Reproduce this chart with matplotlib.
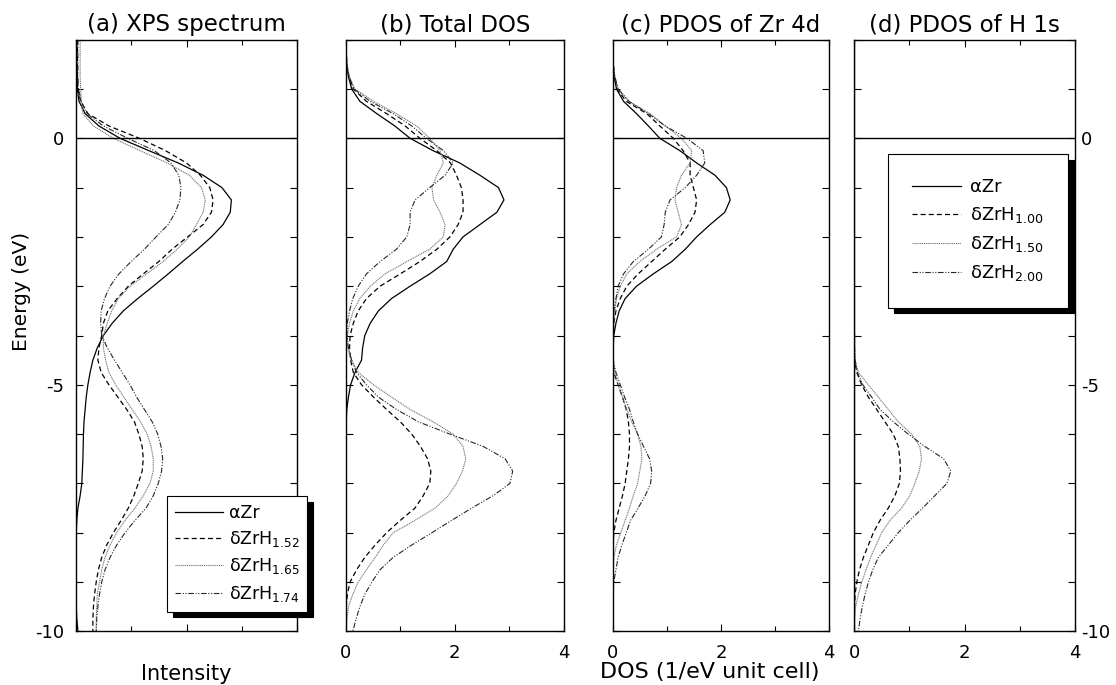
import matplotlib
matplotlib.use('Agg')
import matplotlib.pyplot as plt
from matplotlib.ticker import MultipleLocator

plt.rcParams['font.family'] = ['DejaVu Sans']
plt.rcParams['mathtext.fontset'] = 'dejavusans'
plt.rcParams['axes.unicode_minus'] = False

# energy grid (eV), shared by every curve
energy = [2.0, 1.75, 1.5, 1.25, 1.0, 0.75, 0.5, 0.25,
          0.0, -0.25, -0.5, -0.75, -1.0, -1.25, -1.5, -1.75,
          -2.0, -2.25, -2.5, -2.75, -3.0, -3.25, -3.5, -3.75,
          -4.0, -4.25, -4.5, -4.75, -5.0, -5.25, -5.5, -5.75,
          -6.0, -6.25, -6.5, -6.75, -7.0, -7.25, -7.5, -7.75,
          -8.0, -8.25, -8.5, -8.75, -9.0, -9.25, -9.5, -9.75,
          -10.0]

# (a) XPS spectrum (arbitrary intensity)
xps_zr = [0.02, 0.02, 0.02, 0.03, 0.03, 0.06, 0.17, 0.42,
          0.80, 1.32, 1.85, 2.30, 2.64, 2.81, 2.79, 2.66,
          2.45, 2.20, 1.93, 1.67, 1.40, 1.12, 0.86, 0.66,
          0.50, 0.39, 0.31, 0.26, 0.22, 0.19, 0.17, 0.15,
          0.14, 0.135, 0.13, 0.12, 0.11, 0.08, 0.04, 0.02,
          0.01, 0.01, 0.01, 0.01, 0.01, 0.01, 0.01, 0.02,
          0.04]
xps_152 = [0.03, 0.03, 0.03, 0.03, 0.04, 0.09, 0.22, 0.60,
           1.15, 1.62, 2.00, 2.25, 2.42, 2.48, 2.45, 2.30,
           2.02, 1.74, 1.50, 1.22, 0.95, 0.75, 0.58, 0.50,
           0.47, 0.42, 0.40, 0.46, 0.60, 0.76, 0.92, 1.06,
           1.14, 1.20, 1.22, 1.20, 1.13, 1.05, 0.95, 0.82,
           0.68, 0.56, 0.47, 0.41, 0.37, 0.34, 0.32, 0.31,
           0.31]
xps_165 = [0.08, 0.08, 0.08, 0.08, 0.09, 0.10, 0.13, 0.32,
           0.68, 1.16, 1.65, 2.05, 2.27, 2.34, 2.30, 2.18,
           2.05, 1.83, 1.58, 1.28, 0.98, 0.77, 0.65, 0.57,
           0.50, 0.50, 0.54, 0.60, 0.72, 0.87, 1.02, 1.17,
           1.29, 1.36, 1.40, 1.40, 1.34, 1.22, 1.07, 0.89,
           0.74, 0.62, 0.53, 0.47, 0.43, 0.39, 0.38, 0.37,
           0.37]
xps_174 = [0.04, 0.04, 0.04, 0.04, 0.05, 0.10, 0.20, 0.50,
           0.94, 1.42, 1.72, 1.86, 1.90, 1.88, 1.80, 1.67,
           1.45, 1.24, 1.00, 0.78, 0.62, 0.52, 0.46, 0.45,
           0.47, 0.57, 0.70, 0.84, 0.98, 1.10, 1.24, 1.38,
           1.48, 1.54, 1.57, 1.55, 1.49, 1.40, 1.27, 1.07,
           0.89, 0.74, 0.62, 0.53, 0.47, 0.43, 0.40, 0.38,
           0.37]

# (b) total DOS
tot_zr = [0.00, 0.01, 0.02, 0.05, 0.11, 0.26, 0.57, 0.90,
          1.18, 1.60, 2.09, 2.46, 2.80, 2.90, 2.77, 2.46,
          2.15, 1.97, 1.85, 1.54, 1.18, 0.84, 0.60, 0.45,
          0.35, 0.31, 0.29, 0.17, 0.09, 0.05, 0.02, 0.01,
          0.00, 0.00, 0.00, 0.00, 0.00, 0.00, 0.00, 0.00,
          0.00, 0.00, 0.00, 0.00, 0.00, 0.00, 0.00, 0.00,
          0.00]
tot_100 = [0.00, 0.01, 0.02, 0.06, 0.14, 0.38, 0.75, 1.09,
           1.36, 1.67, 1.92, 2.03, 2.12, 2.15, 2.15, 2.06,
           1.91, 1.67, 1.36, 1.00, 0.63, 0.38, 0.23, 0.14,
           0.08, 0.07, 0.09, 0.14, 0.29, 0.51, 0.75, 1.00,
           1.21, 1.37, 1.50, 1.56, 1.54, 1.42, 1.27, 1.00,
           0.75, 0.54, 0.35, 0.20, 0.08, 0.03, 0.01, 0.00,
           0.00]
tot_150 = [0.00, 0.01, 0.02, 0.07, 0.17, 0.51, 0.93, 1.30,
           1.54, 1.73, 1.79, 1.67, 1.58, 1.61, 1.73, 1.82,
           1.79, 1.54, 1.12, 0.72, 0.45, 0.26, 0.14, 0.07,
           0.03, 0.04, 0.10, 0.23, 0.51, 0.84, 1.18, 1.60,
           1.97, 2.15, 2.20, 2.14, 2.03, 1.88, 1.64, 1.27,
           0.87, 0.69, 0.54, 0.38, 0.23, 0.13, 0.05, 0.02,
           0.01]
tot_200 = [0.00, 0.01, 0.02, 0.06, 0.15, 0.45, 0.87, 1.21,
           1.48, 1.79, 1.97, 1.82, 1.54, 1.27, 1.18, 1.18,
           1.12, 0.93, 0.63, 0.38, 0.23, 0.13, 0.07, 0.03,
           0.02, 0.05, 0.11, 0.20, 0.38, 0.60, 0.93, 1.33,
           1.91, 2.52, 2.92, 3.06, 3.01, 2.70, 2.31, 1.94,
           1.58, 1.21, 0.87, 0.63, 0.48, 0.35, 0.26, 0.19,
           0.13]

# (c) PDOS of Zr 4d
zr_zr = [0.00, 0.00, 0.01, 0.03, 0.07, 0.20, 0.44, 0.66,
         0.87, 1.24, 1.55, 1.89, 2.10, 2.17, 2.07, 1.80,
         1.55, 1.34, 1.09, 0.75, 0.44, 0.23, 0.12, 0.06,
         0.02, 0.01, 0.00, 0.00, 0.00, 0.00, 0.00, 0.00,
         0.00, 0.00, 0.00, 0.00, 0.00, 0.00, 0.00, 0.00,
         0.00, 0.00, 0.00, 0.00, 0.00, 0.00, 0.00, 0.00,
         0.00]
zr_100 = [0.00, 0.00, 0.01, 0.03, 0.08, 0.25, 0.63, 0.87,
          1.12, 1.30, 1.43, 1.43, 1.49, 1.55, 1.52, 1.40,
          1.24, 0.97, 0.72, 0.47, 0.26, 0.14, 0.06, 0.02,
          0.01, 0.01, 0.01, 0.02, 0.10, 0.18, 0.25, 0.29,
          0.31, 0.31, 0.29, 0.26, 0.23, 0.18, 0.12, 0.06,
          0.02, 0.01, 0.00, 0.00, 0.00, 0.00, 0.00, 0.00,
          0.00]
zr_150 = [0.00, 0.00, 0.01, 0.04, 0.10, 0.30, 0.69, 0.97,
          1.27, 1.46, 1.43, 1.27, 1.18, 1.15, 1.21, 1.27,
          1.18, 0.81, 0.50, 0.26, 0.14, 0.07, 0.04, 0.02,
          0.01, 0.01, 0.01, 0.04, 0.10, 0.18, 0.26, 0.35,
          0.46, 0.52, 0.54, 0.50, 0.46, 0.38, 0.31, 0.23,
          0.15, 0.07, 0.02, 0.01, 0.00, 0.00, 0.00, 0.00,
          0.00]
zr_200 = [0.00, 0.00, 0.01, 0.04, 0.10, 0.30, 0.66, 0.97,
          1.37, 1.67, 1.70, 1.55, 1.34, 1.06, 0.97, 0.95,
          0.90, 0.66, 0.38, 0.20, 0.10, 0.06, 0.02, 0.01,
          0.01, 0.01, 0.01, 0.06, 0.14, 0.22, 0.31, 0.38,
          0.46, 0.57, 0.68, 0.72, 0.70, 0.60, 0.47, 0.33,
          0.25, 0.17, 0.10, 0.06, 0.02, 0.01, 0.00, 0.00,
          0.00]

# (d) PDOS of H 1s
h_zr = [0.00, 0.00, 0.00, 0.00, 0.00, 0.00, 0.00, 0.00,
        0.00, 0.00, 0.00, 0.00, 0.00, 0.00, 0.00, 0.00,
        0.00, 0.00, 0.00, 0.00, 0.00, 0.00, 0.00, 0.00,
        0.00, 0.00, 0.00, 0.00, 0.00, 0.00, 0.00, 0.00,
        0.00, 0.00, 0.00, 0.00, 0.00, 0.00, 0.00, 0.00,
        0.00, 0.00, 0.00, 0.00, 0.00, 0.00, 0.00, 0.00,
        0.00]
h_100 = [0.00, 0.00, 0.00, 0.00, 0.00, 0.00, 0.00, 0.00,
         0.00, 0.00, 0.00, 0.00, 0.00, 0.00, 0.00, 0.00,
         0.00, 0.00, 0.00, 0.00, 0.00, 0.00, 0.00, 0.00,
         0.00, 0.00, 0.01, 0.05, 0.14, 0.26, 0.41, 0.56,
         0.71, 0.80, 0.83, 0.84, 0.82, 0.74, 0.62, 0.47,
         0.35, 0.26, 0.17, 0.10, 0.05, 0.02, 0.01, 0.00,
         0.00]
h_150 = [0.00, 0.00, 0.00, 0.00, 0.00, 0.00, 0.00, 0.00,
         0.00, 0.00, 0.00, 0.00, 0.00, 0.00, 0.00, 0.00,
         0.00, 0.00, 0.00, 0.00, 0.00, 0.00, 0.00, 0.00,
         0.01, 0.01, 0.02, 0.08, 0.26, 0.44, 0.62, 0.80,
         1.04, 1.19, 1.22, 1.18, 1.10, 1.01, 0.86, 0.65,
         0.50, 0.40, 0.30, 0.22, 0.14, 0.08, 0.03, 0.01,
         0.00]
h_200 = [0.00, 0.00, 0.00, 0.00, 0.00, 0.00, 0.00, 0.00,
         0.00, 0.00, 0.00, 0.00, 0.00, 0.00, 0.00, 0.00,
         0.00, 0.00, 0.00, 0.00, 0.00, 0.00, 0.00, 0.00,
         0.01, 0.01, 0.02, 0.06, 0.16, 0.32, 0.47, 0.71,
         0.98, 1.28, 1.62, 1.75, 1.68, 1.46, 1.24, 1.01,
         0.80, 0.62, 0.44, 0.34, 0.26, 0.20, 0.15, 0.11,
         0.08]

titles = ['(a) XPS spectrum', '(b) Total DOS', '(c) PDOS of Zr 4d', '(d) PDOS of H 1s']
panels = [
    [xps_zr, xps_152, xps_165, xps_174],
    [tot_zr, tot_100, tot_150, tot_200],
    [zr_zr, zr_100, zr_150, zr_200],
    [h_zr, h_100, h_150, h_200],
]
labels_xps = ['αZr', 'δZrH$_{1.52}$', 'δZrH$_{1.65}$', 'δZrH$_{1.74}$']
labels_dos = ['αZr', 'δZrH$_{1.00}$', 'δZrH$_{1.50}$', 'δZrH$_{2.00}$']

styles = [
    dict(ls='-', color='black', lw=0.9),
    dict(ls=(0, (4, 2.5)), color='black', lw=0.9),
    dict(ls=(0, (1, 0.7)), color='0.45', lw=0.8),
    dict(ls=(0, (5, 1.5, 1, 1.5, 1, 1.5)), color='0.15', lw=0.8),
]

W, H = 1116, 685
fig = plt.figure(figsize=(W / 100, H / 100), dpi=100)
boxes = [(75.7, 297.3), (345.7, 564.0), (612.7, 829.3), (854.0, 1075.3)]
top, bottom = 39.7, 631.3

axes = []
for i, (x0, x1) in enumerate(boxes):
    ax = fig.add_axes([x0 / W, 1 - bottom / H, (x1 - x0) / W, (bottom - top) / H])
    lines = []
    for vals, st in zip(panels[i], styles):
        ln, = ax.plot(vals, energy, **st)
        lines.append(ln)
    ax.axhline(0, color='black', lw=1.0)
    ax.set_xlim(0, 4)
    ax.set_ylim(-10, 2)
    ax.xaxis.set_major_locator(MultipleLocator(2))
    ax.xaxis.set_minor_locator(MultipleLocator(1))
    ax.yaxis.set_major_locator(MultipleLocator(5))
    ax.yaxis.set_minor_locator(MultipleLocator(1))
    ax.tick_params(which='both', direction='in', top=True, right=True,
                   labelsize=13, width=0.8)
    ax.tick_params(axis='y', which='both', length=5, pad=8)
    ax.tick_params(axis='x', which='major', length=5, pad=9)
    ax.tick_params(axis='x', which='minor', length=3.5)
    for s in ax.spines.values():
        s.set_linewidth(1.0)
    ax.set_title(titles[i], fontsize=16.5, pad=6)
    if i == 0:
        ax.tick_params(labelbottom=False)
    else:
        ax.tick_params(labelleft=False)
    if i == 3:
        ax.tick_params(axis='y', labelright=True, pad=4)
    axes.append((ax, lines))

shadow = {'ox': 4, 'oy': -4, 'color': 'black', 'alpha': 1}

ax, lines = axes[0]
leg = ax.legend(lines, labels_xps, loc='upper left', borderaxespad=0,
                bbox_to_anchor=(167 / W, 1 - 496 / H), bbox_transform=fig.transFigure,
                fancybox=False, shadow=shadow, edgecolor='black', framealpha=1,
                fontsize=12.5, handlelength=2.8, handletextpad=0.3,
                labelspacing=0.42, borderpad=0.45)
leg.get_frame().set_linewidth(0.8)

ax, lines = axes[3]
leg = ax.legend(lines, labels_dos, loc='upper left', borderaxespad=0,
                bbox_to_anchor=(888 / W, 1 - 154 / H), bbox_transform=fig.transFigure,
                fancybox=False, shadow=shadow, edgecolor='black', framealpha=1,
                fontsize=13, handlelength=2.7, handletextpad=0.5,
                labelspacing=0.5, borderpad=1.35)
leg.get_frame().set_linewidth(0.8)

fig.text(22 / W, 1 - 291 / H, 'Energy (eV)', rotation=90, fontsize=14.5,
         ha='center', va='center')
fig.text(186.5 / W, 1 - 674 / H, 'Intensity', fontsize=15, ha='center', va='center')
fig.text(710 / W, 1 - 672 / H, 'DOS (1/eV unit cell)', fontsize=16,
         ha='center', va='center')

fig.savefig('out.png', dpi=100)
